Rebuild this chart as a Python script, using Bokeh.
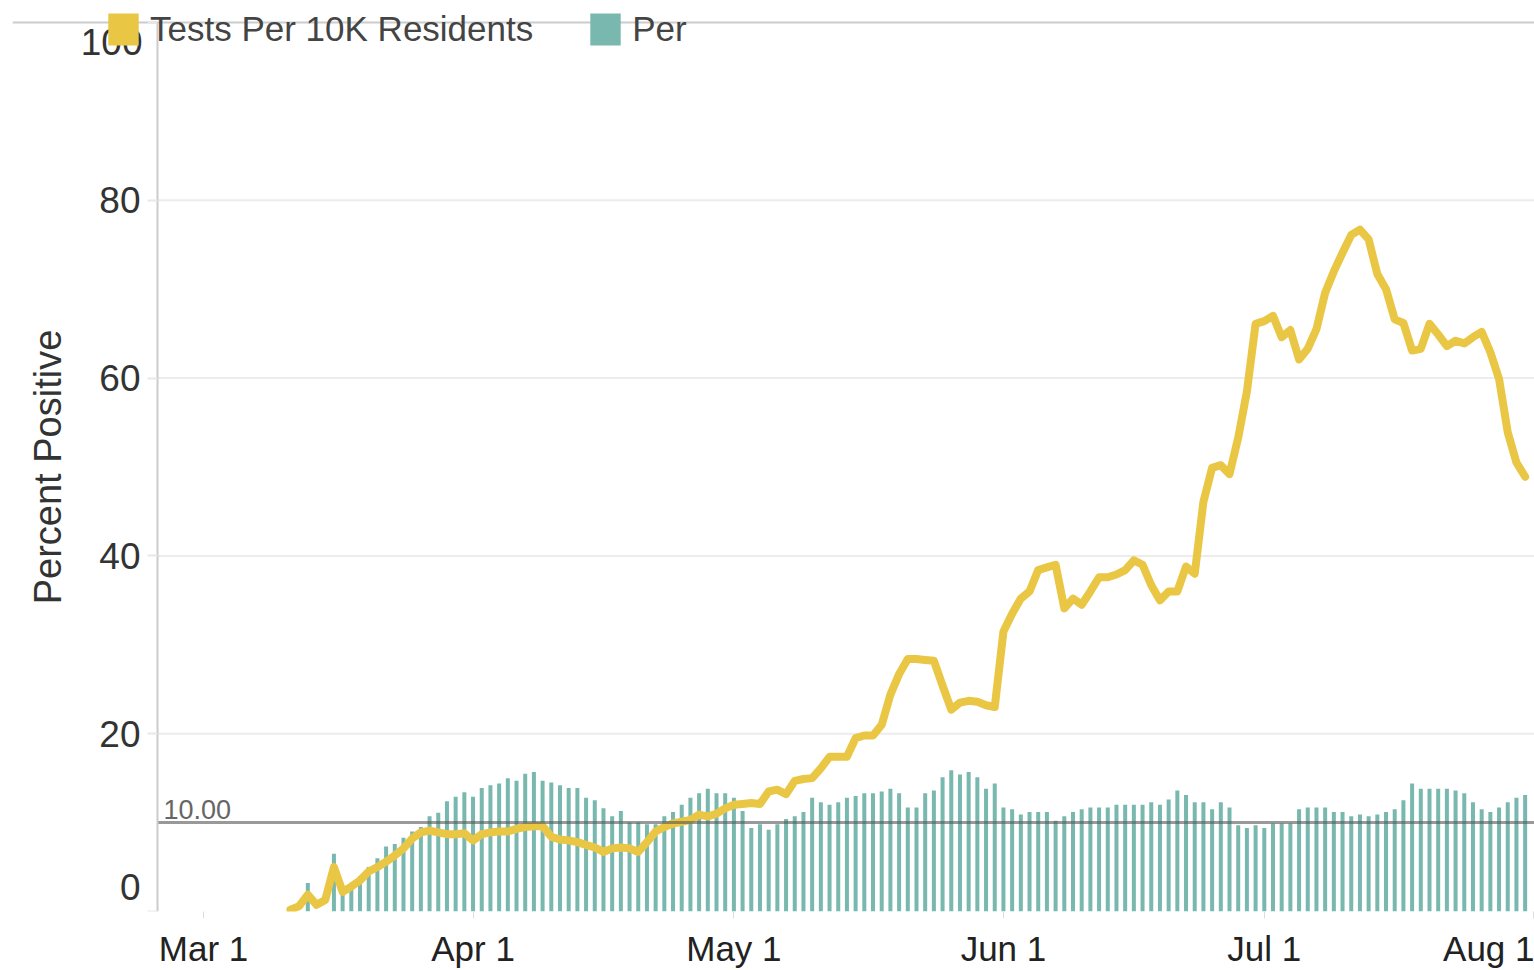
import pandas as pd
from bokeh.plotting import figure
from bokeh.models import (ColumnDataSource, Range1d, FixedTicker, Label,
                          Legend, LegendItem)
from bokeh.embed import file_html
from bokeh.resources import INLINE

# ---------------- data ----------------
line_start = "2020-03-11"
tests_per_10k = [
    0.2, 0.6, 1.9, 0.75, 1.3, 5.0, 2.2, 2.8, 3.5, 4.5,
    5.0, 5.6, 6.3, 7.1, 8.2, 8.9, 9.1, 8.9, 8.7, 8.7,
    8.8, 8.0, 8.7, 8.9, 9.0, 9.0, 9.3, 9.5, 9.6, 9.6,
    8.4, 8.1, 8.0, 7.8, 7.5, 7.2, 6.7, 7.1, 7.2, 7.1,
    6.7, 7.8, 9.0, 9.5, 9.9, 10.1, 10.3, 10.9, 10.7, 11.0,
    11.6, 12.0, 12.1, 12.2, 12.1, 13.5, 13.7, 13.2, 14.7, 14.9,
    15.0, 16.1, 17.4, 17.4, 17.4, 19.5, 19.8, 19.8, 21.0, 24.4,
    26.7, 28.4, 28.4, 28.3, 28.2, 25.4, 22.7, 23.5, 23.7, 23.6,
    23.2, 23.0, 31.5, 33.5, 35.2, 36.0, 38.4, 38.7, 39.0, 34.1,
    35.2, 34.5, 36.0, 37.6, 37.6, 37.9, 38.4, 39.5, 39.0, 36.7,
    35.0, 36.0, 36.0, 38.8, 38.0, 46.1, 49.9, 50.2, 49.2, 53.3,
    58.5, 66.1, 66.4, 67.0, 64.6, 65.4, 62.1, 63.3, 65.5, 69.6,
    72.0, 74.1, 76.1, 76.7, 75.6, 71.7, 70.0, 66.6, 66.2, 63.1,
    63.3, 66.1, 64.9, 63.6, 64.2, 63.9, 64.6, 65.2, 62.9, 59.9,
    53.9, 50.5, 48.9,
]

bar_first_dates = ["2020-03-13"]
bar_first_values = [3.2]
bar_run_start = "2020-03-16"
pct_positive = [
    6.5, 2.2, 3.0, 4.0, 5.0, 6.0, 7.3, 7.6, 8.3, 9.0,
    9.5, 10.7, 11.1, 12.4, 12.9, 13.4, 12.9, 13.9, 14.2, 14.4,
    15.0, 14.7, 15.5, 15.7, 14.7, 14.5, 14.2, 13.9, 13.9, 12.8,
    12.5, 11.6, 10.7, 11.3, 10.0, 10.0, 9.8, 9.8, 10.7, 11.2,
    12.0, 12.8, 13.3, 13.8, 13.3, 13.3, 12.8, 11.3, 9.4, 9.8,
    9.2, 9.8, 10.4, 10.7, 11.2, 12.8, 12.3, 12.0, 12.3, 12.8,
    13.0, 13.3, 13.3, 13.5, 13.8, 13.3, 11.7, 11.7, 13.3, 13.6,
    15.1, 15.9, 15.4, 15.7, 15.1, 13.8, 14.4, 11.7, 11.5, 10.9,
    11.2, 11.2, 11.2, 10.2, 10.7, 11.2, 11.5, 11.7, 11.7, 11.7,
    12.0, 12.0, 12.0, 12.0, 12.3, 12.0, 12.6, 13.6, 13.1, 12.3,
    12.3, 11.5, 12.3, 11.7, 9.7, 9.4, 9.7, 9.4, 9.9, 9.9,
    9.9, 11.5, 11.7, 11.7, 11.7, 11.2, 11.2, 10.7, 10.9, 10.7,
    10.9, 11.2, 11.5, 12.5, 14.4, 13.8, 13.8, 13.8, 13.8, 13.6,
    13.3, 12.3, 11.5, 11.2, 11.7, 12.3, 12.8, 13.1,
]

threshold = 10.0
threshold_label = "10.00"

x_tick_dates = ["2020-03-01", "2020-04-01", "2020-05-01", "2020-06-01", "2020-07-01", "2020-08-01"]
x_tick_labels = ["Mar 1", "Apr 1", "May 1", "Jun 1", "Jul 1", "Aug 1"]
y_tick_values = [0, 20, 40, 60, 80, 100]
y_tick_labels = ["0", "20", "40", "60", "80", "100"]

legend_labels = ["Tests Per 10K Residents", "Per"]
y_title = "Percent Positive"

# ---------------- layout constants ----------------
YELLOW = "#EAC645"
TEAL = "#78B8AF"
FONT = "Liberation Sans"
DAY_MS = 86400000.0
EPOCH = pd.Timestamp("1970-01-01")

W, H = 1534, 970
FRAME_LEFT_PX = 12          # frame starts here (rules extend to it)
AXIS_PX = 157               # where the y axis line sits
FIRST_TICK_PX = 203         # position of the first month tick
PX_PER_DAY = 8.695
FRAME_BOTTOM_PX = 913
PX_PER_UNIT = 8.91          # vertical pixels per percent point
TOP_GAP_PX = 22             # space above the 100 rule


def ms(ts):
    return (pd.Timestamp(ts) - EPOCH) / pd.Timedelta(milliseconds=1)


t0 = ms(x_tick_dates[0])
x_start = t0 - (FIRST_TICK_PX - FRAME_LEFT_PX) / PX_PER_DAY * DAY_MS
x_end = t0 + (W - FIRST_TICK_PX) / PX_PER_DAY * DAY_MS
axis_x = t0 - (FIRST_TICK_PX - AXIS_PX) / PX_PER_DAY * DAY_MS
y_top = y_tick_values[-1] + TOP_GAP_PX / PX_PER_UNIT

line_dates = pd.date_range(line_start, periods=len(tests_per_10k), freq="D")
line_src = ColumnDataSource(dict(date=line_dates, tests=tests_per_10k))

bar_dates = list(pd.to_datetime(bar_first_dates)) + list(
    pd.date_range(bar_run_start, periods=len(pct_positive), freq="D"))
bar_src = ColumnDataSource(dict(date=bar_dates, pct=bar_first_values + pct_positive))

p = figure(width=W, height=H, output_backend="svg", toolbar_location=None,
           tools="", x_axis_type="datetime",
           x_range=Range1d(x_start, x_end), y_range=Range1d(0, y_top),
           min_border_left=FRAME_LEFT_PX, min_border_right=0,
           min_border_top=0, min_border_bottom=H - FRAME_BOTTOM_PX)
p.outline_line_color = None
p.background_fill_color = "white"
p.border_fill_color = "white"

# inner gridlines starting at the y axis
inner = y_tick_values[1:-1]
p.segment(x0=[axis_x] * len(inner), x1=[x_end] * len(inner), y0=inner, y1=inner,
          line_color="#ececec", line_width=2, level="underlay")

bars = p.vbar(x="date", top="pct", width=0.46 * DAY_MS, source=bar_src,
              fill_color=TEAL, line_color=None)
p.line(x="date", y="tests", source=line_src, line_color=YELLOW, line_width=8,
       line_join="round", line_cap="round")
# legend swatch for the line series (no visible mark: NaN position)
swatch = p.vbar(x=[float("nan")], top=[float("nan")], width=DAY_MS,
                fill_color=YELLOW, line_color=None)

# threshold rule from the axis rightwards
p.segment(x0=[axis_x], x1=[x_end], y0=[threshold], y1=[threshold],
          line_color="#555555", line_alpha=0.6, line_width=3)
p.add_layout(Label(x=axis_x, y=threshold, x_offset=6, y_offset=4, text=threshold_label,
                   text_baseline="bottom", text_font=FONT, text_font_size="27px",
                   text_color="#666666"))

# full-width rules at 0 and 100
p.ygrid.ticker = FixedTicker(ticks=[y_tick_values[0], y_tick_values[-1]])
p.ygrid.grid_line_color = "#cccccc"
p.ygrid.grid_line_width = 2
p.xgrid.grid_line_color = None

# x axis
x_ticks = [ms(d) for d in x_tick_dates]
p.xaxis.ticker = FixedTicker(ticks=x_ticks)
p.xaxis.major_label_overrides = {t: lab for t, lab in zip(x_ticks, x_tick_labels)}
p.xaxis.axis_line_color = None
p.xaxis.major_tick_out = 7
p.xaxis.major_tick_in = 0
p.xaxis.major_tick_line_color = "#dddddd"
p.xaxis.minor_tick_line_color = None
p.xaxis.major_label_standoff = 10
p.xaxis.major_label_text_font = FONT
p.xaxis.major_label_text_font_size = "35px"
p.xaxis.major_label_text_color = "#222222"

# y axis placed inside the frame
p.yaxis.fixed_location = axis_x
p.yaxis.bounds = (y_tick_values[0], y_tick_values[-1])
p.yaxis.ticker = FixedTicker(ticks=y_tick_values)
p.yaxis.major_label_overrides = {v: (lab if v not in (y_tick_values[0], y_tick_values[-1]) else "")
                                 for v, lab in zip(y_tick_values, y_tick_labels)}
p.yaxis.axis_line_color = "#cccccc"
p.yaxis.axis_line_width = 2
p.yaxis.major_tick_out = 10
p.yaxis.major_tick_in = 0
p.yaxis.major_tick_line_color = "#e8e8e8"
p.yaxis.major_tick_line_width = 2
p.yaxis.minor_tick_line_color = None
p.yaxis.major_label_standoff = 7
p.yaxis.major_label_text_font = FONT
p.yaxis.major_label_text_font_size = "37px"
p.yaxis.major_label_text_color = "#333333"
p.yaxis.axis_label = y_title
p.yaxis.axis_label_text_font = FONT
p.yaxis.axis_label_text_font_size = "38px"
p.yaxis.axis_label_text_font_style = "normal"
p.yaxis.axis_label_text_color = "#333333"
p.yaxis.axis_label_standoff = 27

# end tick labels nudged inside (0 raised, 100 lowered)
p.add_layout(Label(x=axis_x, y=y_tick_values[0], x_offset=-17, y_offset=25,
                   text=y_tick_labels[0], text_align="right", text_baseline="middle",
                   text_font=FONT, text_font_size="37px", text_color="#333333"))
p.add_layout(Label(x=axis_x, y=y_tick_values[-1], x_offset=-15, y_offset=-20,
                   text=y_tick_labels[-1], text_align="right", text_baseline="middle",
                   text_font=FONT, text_font_size="37px", text_color="#333333"))

legend = Legend(items=[LegendItem(label=legend_labels[0], renderers=[swatch]),
                       LegendItem(label=legend_labels[1], renderers=[bars])],
                orientation="horizontal", location=(92, 862),
                glyph_width=38, glyph_height=40, label_height=40,
                label_standoff=8, spacing=53, padding=0, margin=0,
                border_line_alpha=0, background_fill_alpha=0,
                label_text_font=FONT, label_text_font_size="35px",
                label_text_color="#444444")
p.add_layout(legend, "center")

open("out.html", "w").write(file_html(p, INLINE))
